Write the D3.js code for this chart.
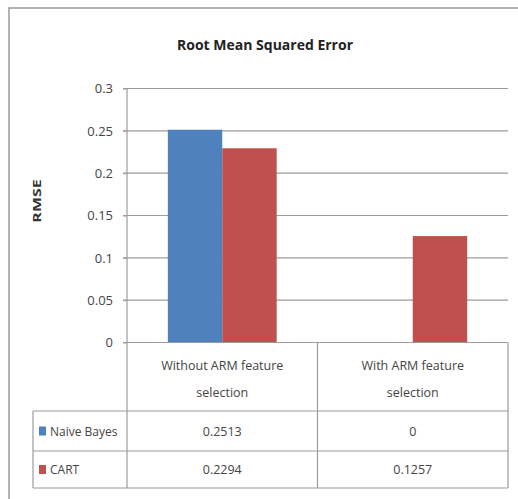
<!DOCTYPE html>
<html><head><meta charset="utf-8">
<script src="https://cdn.jsdelivr.net/npm/d3@7"></script>
<style>body{margin:0;background:#fff}svg{display:block}</style>
</head><body>
<script>
const categories = [["Without ARM feature","selection"],["With ARM feature","selection"]];
const categoryKeys = ["Without ARM feature selection","With ARM feature selection"];
const seriesNames = ["Naive Bayes","CART"];
const naiveBayes = [0.2513, 0];
const cart = [0.2294, 0.1257];
const valueLabels = [["0.2513","0"],["0.2294","0.1257"]];
const yTicks = [0,0.05,0.1,0.15,0.2,0.25,0.3];
const colors = ["#4F81BD","#C0504D"];

(function(){
const W=518,H=499;
const font = "'Open Sans',sans-serif";
const svg = d3.select("body").append("svg").attr("width",W).attr("height",H);
svg.append("rect").attr("width",W).attr("height",H).attr("fill","#fff");
svg.append("rect").attr("x",9).attr("y",8).attr("width",520).attr("height",500)
  .attr("fill","none").attr("stroke","#9a9a9a").attr("stroke-width",1.5);

const pLeft=127,pRight=508,pTop=88.5,base=342.5;
const rowLines=[411,451,488];
const legendLeft=33;
const y = d3.scaleLinear().domain([0,0.3]).range([base,pTop]);
const x0 = d3.scaleBand().domain(categoryKeys).range([pLeft,pRight]);
const bw = x0.bandwidth();
const gapHalf = bw*0.75/3.5;
const x1 = d3.scaleBand().domain(seriesNames).range([gapHalf,bw-gapHalf]);

svg.append("g").selectAll("line").data(yTicks.filter(d=>d>0)).join("line")
  .attr("x1",pLeft-4).attr("x2",pRight).attr("y1",d=>y(d)).attr("y2",d=>y(d))
  .attr("stroke","#9c9c9c").attr("stroke-width",1.2);

const yAxis = d3.axisLeft(y).tickValues(yTicks).tickFormat(d=>d===0?"0":String(+d.toFixed(2))).tickSize(4).tickPadding(10);
const ga = svg.append("g").attr("transform",`translate(${pLeft},0)`).call(yAxis);
ga.select(".domain").remove();
ga.selectAll("line").attr("stroke","#9c9c9c");
ga.selectAll("text").attr("font-family",font).attr("font-size",13).attr("fill","#444");

const data = categoryKeys.map((c,i)=>({c, vals:[naiveBayes[i],cart[i]]}));
const g = svg.append("g");
data.forEach(d=>{
  g.append("g").selectAll("rect").data(d.vals.map((v,j)=>({v,s:seriesNames[j],j}))).join("rect")
    .attr("x",e=>x0(d.c)+x1(e.s)).attr("width",x1.bandwidth())
    .attr("y",e=>y(e.v)).attr("height",e=>base-y(e.v))
    .attr("fill",e=>colors[e.j]);
});

const ln = (a,b,c,d)=>svg.append("line").attr("x1",a).attr("y1",b).attr("x2",c).attr("y2",d)
  .attr("stroke","#9c9c9c").attr("stroke-width",1.2);
ln(pLeft-4,base,pRight,base);
rowLines.forEach(r=>ln(legendLeft,r,pRight,r));
ln(pLeft,pTop,pLeft,rowLines[2]);
ln(legendLeft,rowLines[0],legendLeft,rowLines[2]);
categoryKeys.forEach(c=>ln(x0(c)+bw,base,x0(c)+bw,rowLines[2]));

categoryKeys.forEach((c,i)=>{
  const t = svg.append("text").attr("text-anchor","middle")
    .attr("font-family",font).attr("font-size",12.5).attr("fill","#444");
  categories[i].forEach((line,k)=>t.append("tspan").attr("x",x0(c)+bw/2).attr("y",370+k*27).text(line));
});
const rowMid=[(rowLines[0]+rowLines[1])/2,(rowLines[1]+rowLines[2])/2];
seriesNames.forEach((s,j)=>{
  categoryKeys.forEach((c,i)=>{
    svg.append("text").attr("x",x0(c)+bw/2).attr("y",rowMid[j]+4.5).attr("text-anchor","middle")
      .attr("font-family",font).attr("font-size",12.5).attr("fill","#444").text(valueLabels[j][i]);
  });
  svg.append("rect").attr("x",39).attr("y",rowMid[j]-4.5).attr("width",7).attr("height",9).attr("fill",colors[j]);
  svg.append("text").attr("x",50).attr("y",rowMid[j]+4.5).attr("font-family",font).attr("font-size",12)
    .attr("fill","#444").text(s);
});

svg.append("text").attr("x",265).attr("y",50).attr("text-anchor","middle").attr("font-family",font)
  .attr("font-size",14).attr("font-weight","bold").attr("fill","#222").text("Root Mean Squared Error");
svg.append("text").attr("transform","translate(41,201) rotate(-90) scale(1.45,1)").attr("text-anchor","middle")
  .attr("font-family",font).attr("font-size",11).attr("font-weight","bold").attr("fill","#333")
  .text("RMSE");
})();
</script>
</body></html>
